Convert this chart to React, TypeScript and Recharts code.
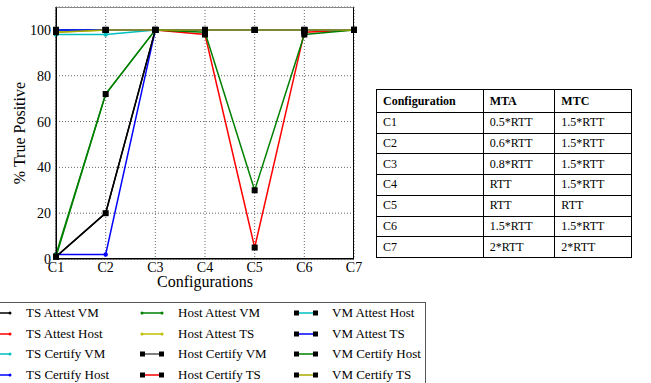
import React from "react";
import { LineChart, Line, XAxis, YAxis, CartesianGrid } from "recharts";

// configurations on the x axis
const CONFIGS = ["C1", "C2", "C3", "C4", "C5", "C6", "C7"];
const Y_TICKS = [0, 20, 40, 60, 80, 100];

// % true positive per configuration
const TS_ATTEST_VM     = [1, 20, 100, 100, 100, 100, 100];
const TS_ATTEST_HOST   = [100, 100, 100, 100, 100, 100, 100];
const TS_CERTIFY_VM    = [98, 98, 100, 100, 100, 100, 100];
const TS_CERTIFY_HOST  = [2, 2, 100, 100, 100, 100, 100];
const HOST_ATTEST_VM   = [2, 72, 100, 100, 100, 100, 100];
const HOST_ATTEST_TS   = [99, 100, 100, 100, 100, 100, 100];
const HOST_CERTIFY_VM  = [1, 20, 100, 100, 100, 100, 100];
const HOST_CERTIFY_TS  = [100, 100, 100, 98, 5, 99, 100];
const VM_ATTEST_HOST   = [100, 100, 100, 100, 100, 100, 100];
const VM_ATTEST_TS     = [100, 100, 100, 100, 100, 100, 100];
const VM_CERTIFY_HOST  = [1, 72, 100, 99, 30, 98, 100];
const VM_CERTIFY_TS    = [99, 100, 100, 100, 100, 100, 100];

const SERIES = [
  { name: "TS Attest VM",     values: TS_ATTEST_VM,    color: "#000000", square: false },
  { name: "TS Attest Host",   values: TS_ATTEST_HOST,  color: "#ff0000", square: false },
  { name: "TS Certify VM",    values: TS_CERTIFY_VM,   color: "#00bfbf", square: false },
  { name: "TS Certify Host",  values: TS_CERTIFY_HOST, color: "#0000ff", square: false },
  { name: "Host Attest VM",   values: HOST_ATTEST_VM,  color: "#008000", square: false },
  { name: "Host Attest TS",   values: HOST_ATTEST_TS,  color: "#bfbf00", square: false },
  { name: "Host Certify VM",  values: HOST_CERTIFY_VM, color: "#000000", square: true },
  { name: "Host Certify TS",  values: HOST_CERTIFY_TS, color: "#ff0000", square: true },
  { name: "VM Attest Host",   values: VM_ATTEST_HOST,  color: "#00bfbf", square: true },
  { name: "VM Attest TS",     values: VM_ATTEST_TS,    color: "#0000ff", square: true },
  { name: "VM Certify Host",  values: VM_CERTIFY_HOST, color: "#008000", square: true },
  { name: "VM Certify TS",    values: VM_CERTIFY_TS,   color: "#a8a800", square: true },
];

// table on the right
const TABLE_HEAD = ["Configuration", "MTA", "MTC"];
const TABLE_MTA = ["0.5*RTT", "0.6*RTT", "0.8*RTT", "RTT", "RTT", "1.5*RTT", "2*RTT"];
const TABLE_MTC = ["1.5*RTT", "1.5*RTT", "1.5*RTT", "1.5*RTT", "RTT", "1.5*RTT", "2*RTT"];

const FONT = "Liberation Serif, Times New Roman, serif";

const data = CONFIGS.map((c, i) => {
  const row: Record<string, number | string> = { config: c };
  SERIES.forEach((s, k) => { row["s" + k] = s.values[i]; });
  return row;
});

const squareDot = (props: any) => (
  <rect key={"sq" + props.index} x={props.cx - 3} y={props.cy - 3} width={6} height={6} fill="#000" />
);

function Swatch({ color, square }: { color: string; square: boolean }) {
  return (
    <svg width={24} height={8} style={{ display: "block" }}>
      <line x1={2} y1={4} x2={22} y2={4} stroke={square && color === "#000000" ? "#555" : color} strokeWidth={1.5} />
      {square ? (
        <>
          <rect x={0} y={1.5} width={5} height={5} fill="#000" />
          <rect x={19} y={1.5} width={5} height={5} fill="#000" />
        </>
      ) : (
        <>
          <circle cx={2} cy={4} r={1.5} fill={color} />
          <circle cx={22} cy={4} r={1.5} fill={color} />
        </>
      )}
    </svg>
  );
}

const LEG_COL_X = [-12, 140, 294];
const LEG_ROW_Y = [306, 327, 347, 368];

export default function App() {
  const cell: React.CSSProperties = { border: "1px solid #000", padding: "0 0 0 6px", textAlign: "left", fontFamily: FONT };
  return (
    <div style={{ position: "absolute", left: 0, top: 0, width: 651, height: 383, overflow: "hidden", fontFamily: FONT, background: "#fff" }}>
      <LineChart width={370} height={292} data={data} margin={{ top: 7, right: 16, left: 0, bottom: 0 }} style={{ fontFamily: FONT }}>
        <CartesianGrid stroke="#666" strokeDasharray="1 2" />
        <XAxis
          dataKey="config"
          axisLine={{ stroke: "#000" }}
          tickLine={false}
          tickSize={0}
          tickMargin={3}
          height={33}
          tick={{ fontSize: 14, fill: "#000", fontFamily: FONT }}
          interval={0}
          label={{ value: "Configurations", position: "insideBottom", offset: 5, fontSize: 16, fill: "#000", fontFamily: FONT }}
        />
        <YAxis
          domain={[0, 110]}
          ticks={Y_TICKS}
          width={56}
          axisLine={{ stroke: "#000" }}
          tickLine={false}
          tickSize={0}
          tickMargin={5}
          tick={{ fontSize: 14, fill: "#000", fontFamily: FONT }}
          label={{ value: "% True Positive", angle: -90, position: "insideLeft", offset: 19, fontSize: 16, fill: "#000", fontFamily: FONT, style: { textAnchor: "middle" } }}
        />
        {SERIES.map((s, k) => (
          <Line
            key={s.name}
            dataKey={"s" + k}
            name={s.name}
            stroke={s.color}
            strokeWidth={1.5}
            isAnimationActive={false}
            dot={s.square ? squareDot : { r: 1.5, fill: s.color, stroke: s.color }}
            activeDot={false}
          />
        ))}
      </LineChart>
      {/* plot frame */}
      <div style={{ position: "absolute", left: 56, top: 7, width: 298, height: 252, border: "1px solid #000", boxSizing: "border-box", borderTopColor: "#888", pointerEvents: "none" }} />

      <table style={{ position: "absolute", left: 376, top: 89, width: 256, height: 169, borderCollapse: "collapse", fontSize: 12, fontFamily: FONT }}>
        <colgroup>
          <col style={{ width: 107 }} />
          <col style={{ width: 72 }} />
          <col style={{ width: 77 }} />
        </colgroup>
        <thead>
          <tr style={{ height: 23 }}>
            {TABLE_HEAD.map((h) => (
              <th key={h} style={{ ...cell, fontWeight: "bold" }}>{h}</th>
            ))}
          </tr>
        </thead>
        <tbody>
          {CONFIGS.map((c, i) => (
            <tr key={c}>
              <td style={cell}>{c}</td>
              <td style={cell}>{TABLE_MTA[i]}</td>
              <td style={cell}>{TABLE_MTC[i]}</td>
            </tr>
          ))}
        </tbody>
      </table>

      <div style={{ position: "absolute", left: -20, top: 302, width: 446, height: 100, border: "1px solid #555", boxSizing: "border-box" }} />
      {SERIES.map((s, k) => {
        const col = Math.floor(k / 4);
        const row = k % 4;
        return (
          <div key={s.name} style={{ position: "absolute", left: LEG_COL_X[col], top: LEG_ROW_Y[row], display: "flex", alignItems: "center", height: 14, fontSize: 13, whiteSpace: "nowrap", fontFamily: FONT }}>
            <Swatch color={s.color} square={s.square} />
            <span style={{ marginLeft: 14 }}>{s.name}</span>
          </div>
        );
      })}
    </div>
  );
}
